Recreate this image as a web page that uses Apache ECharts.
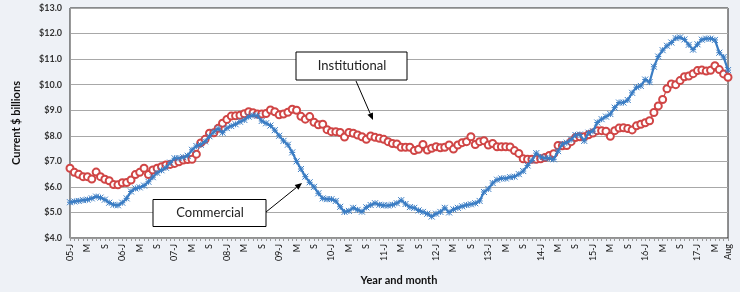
<!DOCTYPE html>
<html>
<head>
<meta charset="utf-8">
<title>Institutional vs Commercial</title>
<script src="https://cdn.jsdelivr.net/npm/echarts@6/dist/echarts.min.js"></script>
<style>
  html, body { margin: 0; padding: 0; background: #eef1f6; }
  #page { width: 740px; height: 292px; }
</style>
</head>
<body>
<div id="page"></div>
<script>
// years on the axis (Jan 2005 .. Aug 2017, monthly)
var years = ['05', '06', '07', '08', '09', '10', '11', '12', '13', '14', '15', '16', '17'];
var monthLetters = ['J', 'F', 'M', 'A', 'M', 'J', 'J', 'A', 'S', 'O', 'N', 'D'];
var lastLabel = 'Aug';
var lastMonths = 8; // months shown in final year

// Institutional, $ billions
var institutional = [
  6.73, 6.57, 6.49, 6.40, 6.40, 6.31, 6.58, 6.40, 6.30, 6.24, 6.09, 6.08,
  6.16, 6.17, 6.27, 6.48, 6.57, 6.73, 6.48, 6.66, 6.73, 6.79, 6.86, 6.88,
  6.92, 6.98, 7.05, 7.07, 7.08, 7.28, 7.72, 7.86, 8.10, 8.12, 8.29, 8.49,
  8.64, 8.77, 8.78, 8.80, 8.86, 8.94, 8.90, 8.85, 8.85, 8.87, 9.01, 8.94,
  8.82, 8.85, 8.92, 9.04, 9.00, 8.76, 8.65, 8.75, 8.53, 8.43, 8.45, 8.24,
  8.16, 8.16, 8.13, 7.95, 8.13, 8.10, 8.03, 7.96, 7.86, 7.99, 7.94, 7.90,
  7.86, 7.77, 7.70, 7.68, 7.55, 7.55, 7.55, 7.42, 7.47, 7.66, 7.44, 7.51,
  7.57, 7.53, 7.55, 7.64, 7.48, 7.64, 7.73, 7.77, 7.96, 7.66, 7.77, 7.81,
  7.64, 7.70, 7.57, 7.57, 7.57, 7.56, 7.42, 7.31, 7.10, 7.08, 7.08, 7.08,
  7.10, 7.15, 7.23, 7.30, 7.62, 7.61, 7.62, 7.77, 7.93, 7.96, 7.96, 8.04,
  8.11, 8.20, 8.20, 8.18, 7.98, 8.20, 8.30, 8.31, 8.28, 8.23, 8.39, 8.45,
  8.51, 8.59, 8.91, 9.17, 9.42, 9.84, 10.03, 10.00, 10.16, 10.31, 10.34, 10.43,
  10.55, 10.57, 10.53, 10.56, 10.74, 10.59, 10.42, 10.29
];

// Commercial, $ billions
var commercial = [
  5.40, 5.43, 5.45, 5.48, 5.50, 5.55, 5.62, 5.58, 5.50, 5.38, 5.30, 5.28,
  5.38, 5.55, 5.82, 5.94, 5.98, 6.05, 6.20, 6.38, 6.55, 6.65, 6.75, 6.95,
  7.12, 7.12, 7.16, 7.22, 7.45, 7.60, 7.65, 7.78, 7.98, 8.15, 8.28, 8.12,
  8.30, 8.38, 8.45, 8.55, 8.62, 8.75, 8.80, 8.78, 8.58, 8.49, 8.40, 8.22,
  8.00, 7.80, 7.65, 7.35, 7.00, 6.70, 6.40, 6.18, 6.00, 5.75, 5.55, 5.52,
  5.52, 5.45, 5.22, 5.02, 5.06, 5.18, 5.10, 5.03, 5.20, 5.29, 5.36, 5.30,
  5.28, 5.27, 5.30, 5.36, 5.48, 5.33, 5.21, 5.18, 5.08, 5.02, 4.95, 4.84,
  4.95, 5.02, 5.18, 5.00, 5.12, 5.18, 5.24, 5.29, 5.32, 5.36, 5.45, 5.80,
  5.92, 6.15, 6.28, 6.33, 6.33, 6.38, 6.40, 6.50, 6.62, 6.84, 7.03, 7.32,
  7.17, 7.12, 7.12, 7.08, 7.40, 7.68, 7.73, 7.85, 8.03, 8.05, 7.80, 8.12,
  8.18, 8.52, 8.65, 8.75, 8.85, 9.10, 9.30, 9.30, 9.40, 9.68, 9.90, 9.95,
  10.20, 10.10, 10.70, 11.10, 11.35, 11.52, 11.65, 11.82, 11.85, 11.77, 11.56, 11.37,
  11.58, 11.76, 11.80, 11.80, 11.75, 11.25, 11.08, 10.57
];

var categories = [];
years.forEach(function (y, yi) {
  var n = yi === years.length - 1 ? lastMonths : 12;
  for (var m = 0; m < n; m++) {
    categories.push(m === 0 ? y + '-J' : monthLetters[m]);
  }
});
categories[categories.length - 1] = lastLabel;

var lastIdx = categories.length - 1;
var font = 'Lato, "Open Sans", sans-serif';

var chart = echarts.init(document.getElementById('page'));

function arrow(x1, y1, x2, y2) {
  // line plus a small filled head at (x2, y2)
  var dx = x2 - x1, dy = y2 - y1;
  var len = Math.sqrt(dx * dx + dy * dy);
  var ux = dx / len, uy = dy / len;
  var bx = x2 - ux * 7, by = y2 - uy * 7;
  var px = -uy * 3, py = ux * 3;
  return [
    {type: 'line', shape: {x1: x1, y1: y1, x2: bx, y2: by}, style: {stroke: '#000', lineWidth: 1}, z: 100},
    {type: 'polygon', shape: {points: [[x2, y2], [bx + px, by + py], [bx - px, by - py]]}, style: {fill: '#000'}, z: 100}
  ];
}

var graphics = [
  {type: 'rect', shape: {x: 296, y: 52, width: 111, height: 28}, style: {fill: '#fff', stroke: '#000', lineWidth: 1}, z: 100},
  {type: 'text', x: 352, y: 66, style: {text: 'Institutional', font: '13px ' + font, fill: '#222', align: 'center', verticalAlign: 'middle'}, z: 101},
  {type: 'rect', shape: {x: 153, y: 199.5, width: 113, height: 27}, style: {fill: '#fff', stroke: '#000', lineWidth: 1}, z: 100},
  {type: 'text', x: 210, y: 213, style: {text: 'Commercial', font: '13px ' + font, fill: '#222', align: 'center', verticalAlign: 'middle'}, z: 101}
].concat(arrow(356, 81, 373, 120), arrow(266, 212, 302, 183));

var option = {
  backgroundColor: '#eef1f6',
  animation: false,
  grid: {
    left: 70, right: 12, top: 8, bottom: 54,
    show: true, backgroundColor: '#fff', borderColor: '#222', borderWidth: 1
  },
  xAxis: {
    type: 'category',
    data: categories,
    boundaryGap: false,
    name: 'Year and month',
    nameLocation: 'middle',
    nameGap: 37,
    nameTextStyle: {fontFamily: font, fontWeight: 'bold', fontSize: 11, color: '#111'},
    axisLine: {lineStyle: {color: '#999'}},
    axisTick: {show: true, interval: 0, length: 3, lineStyle: {color: '#999'}},
    axisLabel: {
      rotate: 90,
      fontFamily: font, fontSize: 9, color: '#111', margin: 6,
      interval: function (i) { return i % 4 === 0 || i === lastIdx; }
    },
    splitLine: {show: false}
  },
  yAxis: {
    type: 'value',
    min: 4, max: 13, interval: 1,
    name: 'Current $ billions',
    nameLocation: 'middle',
    nameGap: 48,
    nameRotate: 90,
    nameTextStyle: {fontFamily: font, fontWeight: 'bold', fontSize: 11, color: '#111'},
    axisLine: {show: true, lineStyle: {color: '#999'}},
    axisTick: {show: false},
    axisLabel: {
      fontFamily: font, fontSize: 9, fontWeight: 'bold', color: '#333', margin: 8,
      formatter: function (v) { return '$' + v.toFixed(1); }
    },
    splitLine: {lineStyle: {color: '#a8a8a8', width: 1}}
  },
  series: [
    {
      name: 'Institutional',
      type: 'line',
      data: institutional,
      symbol: 'emptyCircle',
      symbolSize: 7,
      showSymbol: true,
      showAllSymbol: true,
      lineStyle: {color: '#d04545', width: 1.2},
      itemStyle: {color: '#d04545', borderWidth: 1},
      z: 2
    },
    {
      name: 'Commercial',
      type: 'line',
      data: commercial,
      symbol: 'path://M0,0L10,10M10,0L0,10M5,0L5,10M0,5L10,5',
      symbolSize: 6,
      showSymbol: true,
      showAllSymbol: true,
      lineStyle: {color: '#3b7dc4', width: 2.2},
      itemStyle: {color: '#3b7dc4', borderColor: '#3b7dc4', borderWidth: 1},
      z: 3
    }
  ],
  graphic: graphics
};

chart.setOption(option);
</script>
</body>
</html>
